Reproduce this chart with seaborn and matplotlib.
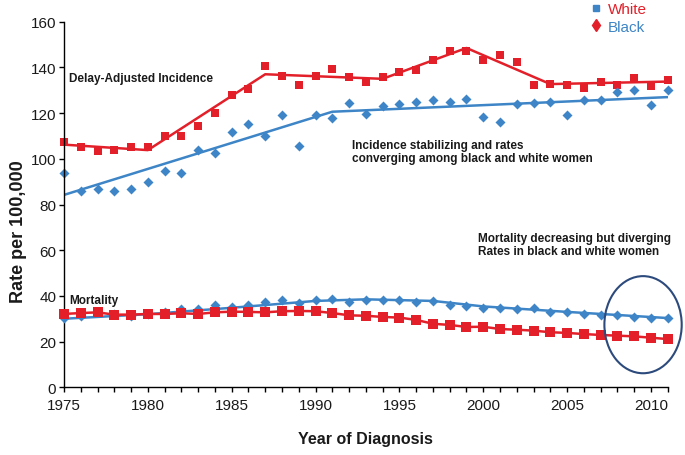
import matplotlib
matplotlib.use("Agg")
import matplotlib.pyplot as plt
from matplotlib.patches import Ellipse
from matplotlib.lines import Line2D
import seaborn as sns
import pandas as pd

# ---------------- data ----------------
years = [1975, 1976, 1977, 1978, 1979, 1980, 1981, 1982, 1983, 1984,
         1985, 1986, 1987, 1988, 1989, 1990, 1991, 1992, 1993, 1994,
         1995, 1996, 1997, 1998, 1999, 2000, 2001, 2002, 2003, 2004,
         2005, 2006, 2007, 2008, 2009, 2010, 2011]

white_incidence = [107.5, 105.0, 103.5, 104.0, 105.0, 105.3, 110.1, 110.1, 114.5, 120.0,
                   127.9, 130.5, 140.5, 136.4, 132.4, 136.4, 139.3, 135.9, 133.7, 135.9,
                   138.1, 138.7, 143.2, 147.0, 147.3, 143.4, 145.6, 142.2, 132.3, 132.7,
                   132.3, 131.1, 133.5, 132.3, 135.4, 131.7, 134.6]

black_incidence = [93.6, 85.8, 86.8, 86.0, 86.8, 89.7, 94.5, 93.6, 103.9, 102.5,
                   111.9, 115.2, 110.1, 119.2, 105.5, 119.2, 117.7, 124.6, 119.6, 123.1,
                   124.0, 124.7, 125.6, 124.7, 126.3, 118.3, 116.2, 124.0, 124.4, 124.9,
                   119.3, 125.9, 125.6, 129.2, 130.2, 123.7, 130.1]

white_mortality = [32.1, 32.5, 32.8, 31.8, 31.8, 32.1, 32.1, 32.4, 32.1, 32.8,
                   33.1, 33.0, 32.8, 33.3, 33.4, 33.3, 32.5, 31.5, 31.3, 30.8,
                   30.5, 29.5, 27.8, 27.3, 26.4, 26.5, 25.5, 25.2, 24.8, 24.1,
                   23.8, 23.3, 22.9, 22.6, 22.3, 21.7, 21.1]

black_mortality = [30.2, 31.1, 33.1, 32.1, 31.1, 32.2, 33.1, 34.3, 34.3, 36.2,
                   35.3, 35.9, 37.2, 38.2, 36.9, 38.3, 38.6, 37.5, 38.3, 38.1,
                   38.3, 37.3, 37.9, 35.9, 35.7, 34.8, 34.8, 34.3, 34.6, 32.8,
                   33.1, 31.9, 31.6, 31.5, 30.8, 30.5, 30.3]

# joinpoint trend segments (knots)
white_inc_trend_years = [1975, 1980, 1987, 1994, 1999, 2004, 2011]
white_inc_trend_vals = [106.2, 103.8, 137.0, 135.0, 148.5, 132.7, 133.8]
black_inc_trend_years = [1975, 1991, 2011]
black_inc_trend_vals = [84.2, 120.6, 127.0]
black_mort_trend_years = [1975, 1980, 1985, 1990, 1993, 1997, 2000, 2005, 2011]
black_mort_trend_vals = [30.0, 32.0, 34.8, 37.8, 38.5, 37.8, 35.4, 33.0, 30.3]

y_ticks = [0, 20, 40, 60, 80, 100, 120, 140, 160]
x_tick_labels = [1975, 1980, 1985, 1990, 1995, 2000, 2005, 2010]

RED = "#e3202a"
BLUE = "#3d85c6"
NAVY = "#2c4a7c"
TXT = "#1a1a1a"

sns.set_theme(style="white")
plt.rcParams["font.family"] = ["Liberation Sans", "DejaVu Sans"]

df = pd.DataFrame({"year": years, "wi": white_incidence, "bi": black_incidence,
                   "wm": white_mortality, "bm": black_mortality})
wit = pd.DataFrame({"year": white_inc_trend_years, "v": white_inc_trend_vals})
bit = pd.DataFrame({"year": black_inc_trend_years, "v": black_inc_trend_vals})
bmt = pd.DataFrame({"year": black_mort_trend_years, "v": black_mort_trend_vals})

fig = plt.figure(figsize=(6.85, 4.56), dpi=100)
ax = fig.add_axes([64/685, 1-388.3/456, (667.7-64)/685, (388.3-22.7)/456])

# incidence
sns.lineplot(data=wit, x="year", y="v", color=RED, lw=1.8, ax=ax)
sns.lineplot(data=bit, x="year", y="v", color=BLUE, lw=1.8, ax=ax)
sns.scatterplot(data=df, x="year", y="wi", marker="s", color=RED, s=36, linewidth=0, ax=ax)
sns.scatterplot(data=df, x="year", y="bi", marker="D", color=BLUE, s=26, linewidth=0, ax=ax)

# mortality
sns.lineplot(data=bmt, x="year", y="v", color=BLUE, lw=1.8, ax=ax)
sns.lineplot(data=df, x="year", y="wm", color=RED, lw=1.8, ax=ax)
sns.scatterplot(data=df, x="year", y="bm", marker="D", color=BLUE, s=26, linewidth=0, ax=ax, zorder=3)
sns.scatterplot(data=df, x="year", y="wm", marker="s", color=RED, s=48, linewidth=0, ax=ax, zorder=3)

for c in ax.collections:
    c.set_clip_on(False)

ax.set_xlim(1975, 2011)
ax.set_ylim(0, 160)
ax.set_yticks(y_ticks)
ax.set_xticks(years)
ax.set_xticklabels([str(y) if y in x_tick_labels else "" for y in years])
for s in ["top", "right"]:
    ax.spines[s].set_visible(False)
for s in ["left", "bottom"]:
    ax.spines[s].set_color("black")
    ax.spines[s].set_linewidth(1.0)
ax.tick_params(axis="both", direction="out", length=3.5, width=1.0, color="black",
               labelsize=11, labelcolor=TXT, bottom=True, left=True)
ax.tick_params(axis="x", pad=4)
ax.tick_params(axis="y", pad=2)
ax.grid(False)

ax.set_xlabel("Year of Diagnosis", fontsize=11.5, fontweight="bold", color=TXT)
ax.set_ylabel("Rate per 100,000", fontsize=13, fontweight="bold", color=TXT)
ax.xaxis.set_label_coords(0.5, -0.12)
ax.yaxis.set_label_coords(-0.062, 0.4275)

fs = 8.5
ax.text(1975.3, 135.4, "Delay-Adjusted Incidence", fontsize=fs, fontweight="bold",
        color=TXT, ha="left", va="center")
ax.text(1992.2, 103.2, "Incidence stabilizing and rates\nconverging among black and white women",
        fontsize=fs, fontweight="bold", color=TXT, ha="left", va="center", linespacing=1.15)
ax.text(1999.67, 62.6, "Mortality decreasing but diverging\nRates in black and white women",
        fontsize=fs, fontweight="bold", color=TXT, ha="left", va="center", linespacing=1.15)
ax.text(1975.3, 38.2, "Mortality", fontsize=fs, fontweight="bold", color=TXT,
        ha="left", va="center")

ell = Ellipse((2009.53, 27.4), width=4.61, height=42.5, fill=False,
              edgecolor=NAVY, lw=1.5, clip_on=False, zorder=4)
ax.add_patch(ell)

handles = [Line2D([], [], marker="s", color=BLUE, ls="none", markersize=5),
           Line2D([], [], marker="d", color=RED, ls="none", markersize=6)]
fig.legend(handles, ["White", "Black"], loc="upper left",
           bbox_to_anchor=(590/685, 0.993), frameon=False, fontsize=11,
           labelcolor=[RED, BLUE], handlelength=0.8, handletextpad=0.36,
           borderpad=0, borderaxespad=0, labelspacing=0.22)

fig.savefig("out.png", dpi=100)
